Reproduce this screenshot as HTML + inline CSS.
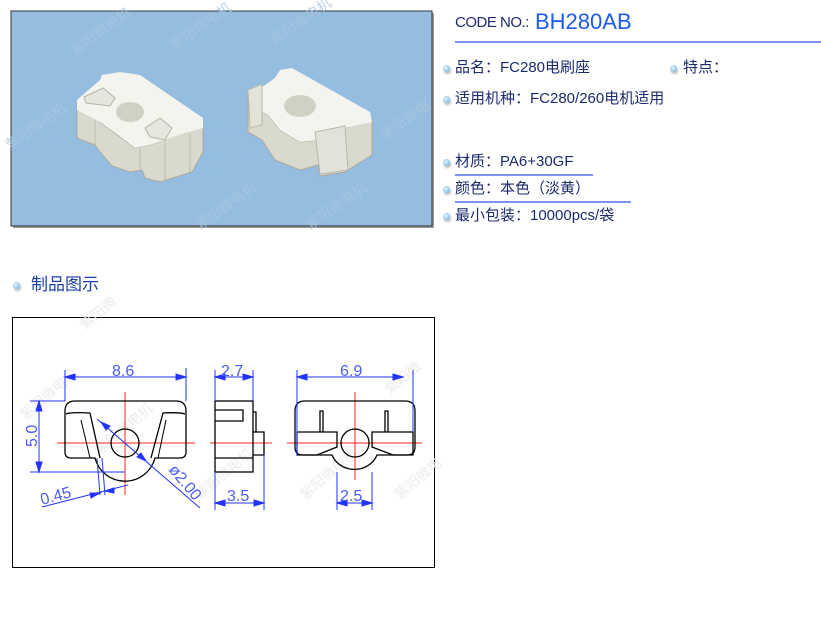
<!DOCTYPE html>
<html><head><meta charset="utf-8"><style>
body{margin:0;width:821px;height:618px;background:#fff;position:relative;overflow:hidden;font-family:"Liberation Sans","Noto Sans CJK SC",sans-serif}
.t{position:absolute;color:#1c2b6e;font-size:15px;white-space:nowrap;line-height:18px}
.b{position:absolute;width:7px;height:7px;border-radius:50%;background:radial-gradient(circle at 40% 40%,#e8f6ff,#5aa6dc);box-shadow:1px 2px 2px #bbb}
.ln{position:absolute;height:2px;background:#7b95ee}
</style></head><body>
<svg width="821" height="618" style="position:absolute;left:0;top:0" font-family="Liberation Sans, Noto Sans CJK SC, sans-serif">
<rect x="13" y="13" width="421" height="215" fill="#999"/>
<rect x="11" y="11" width="421" height="215" fill="#95bde0" stroke="#333" stroke-width="1"/>
<g fill="#a9c6e2" font-size="14" opacity="0.8">
<text transform="translate(75,55) rotate(-35)">紫阳微电机</text>
<text transform="translate(175,50) rotate(-35)">紫阳微电机</text>
<text transform="translate(275,45) rotate(-35)">紫阳微电机</text>
<text transform="translate(10,150) rotate(-35)">紫阳微电机</text>
<text transform="translate(385,140) rotate(-35)">紫阳微电</text>
<text transform="translate(200,230) rotate(-35)">紫阳微电机</text>
<text transform="translate(310,230) rotate(-35)">紫阳微电机</text>
</g>
<!-- part 1 -->
<polygon points="77,102 77,138 95,145 100,152 112,166 130,172 142,170 145,178 160,182 192,172 203,152 203,126 150,145 135,148 100,122" fill="#d9d9cd" stroke="#aaa99c"/>
<path d="M95,118 V145 M140,146 V170 M165,140 V180 M190,133 V172" stroke="#bdbdb0" fill="none"/>
<polygon points="77,100 100,80 102,75 120,72 140,75 203,118 203,128 185,133 165,140 150,145 135,148 118,135 100,122 77,110" fill="#f4f4ef"/>
<ellipse cx="130" cy="112" rx="14" ry="10" fill="#d0d0c4"/>
<polygon points="84,97 103,88 115,98 110,106 86,103" fill="#e6e6dc" stroke="#b5b5a8"/>
<polygon points="145,128 160,118 172,128 165,140 150,137" fill="#e6e6dc" stroke="#b5b5a8"/>
<!-- part 2 -->
<polygon points="248,90 248,132 262,140 275,160 300,170 318,165 320,176 345,172 372,155 372,120 345,128 320,140 300,142 280,130 268,115 255,108" fill="#d9d9cd" stroke="#aaa99c"/>
<polygon points="255,92 275,78 280,70 292,68 370,112 372,122 345,128 320,140 300,142 280,130 268,115 255,108" fill="#f4f4ef"/>
<ellipse cx="300" cy="106" rx="16" ry="11" fill="#d0d0c4"/>
<polygon points="315,132 345,126 348,170 320,174" fill="#e2e2d8" stroke="#b8b8ac"/>
<polygon points="248,90 262,84 262,125 250,128" fill="#e2e2d8" stroke="#b8b8ac"/>

<!-- drawing -->
<rect x="12.5" y="317.5" width="422" height="250" fill="#fff" stroke="#000"/>
<g fill="#ececec" font-size="14">
<text transform="translate(25,420) rotate(-40)">紫阳微电机</text>
<text transform="translate(100,455) rotate(-40)">紫阳微电机</text>
<text transform="translate(200,500) rotate(-40)">紫阳微电机</text>
<text transform="translate(305,500) rotate(-40)">紫阳微电机</text>
<text transform="translate(400,500) rotate(-40)">紫阳微电</text>
<text transform="translate(390,395) rotate(-40)">紫阳微</text>
<text transform="translate(85,330) rotate(-40)">紫阳微</text>
</g>
<g stroke="#f22" stroke-width="1">
<line x1="57" y1="443" x2="195" y2="443"/><line x1="125" y1="392" x2="125" y2="495"/>
<line x1="210" y1="443" x2="272" y2="443"/>
<line x1="287" y1="443" x2="422" y2="443"/><line x1="355" y1="392" x2="355" y2="480"/>
</g>
<g fill="none" stroke="#000" stroke-width="1.3">
<path d="M75,401 H176 Q186,401 186,411 V452 Q186,458 180,458 H155 A31,31 0 0 1 95,458 H71 Q65,458 65,452 V411 Q65,401 75,401 Z"/>
<path d="M66,414 Q70,412 90,413 L100,458"/><path d="M81,420 L90,458" stroke-width="1"/>
<path d="M185,414 Q180,412 163,413 L151,458"/><path d="M166,420 L158,458" stroke-width="1"/>
<circle cx="125" cy="443" r="14"/>
<rect x="215" y="401" width="38" height="71"/>
<path d="M215,410 H243 V421 H215 M215,458 H253 M253,432 H264 V455 H253 M253,412 H256 V432"/>
<path d="M305,401 H405 Q415,401 415,411 V447 Q415,455 407,455 H377 A24,22 0 0 1 332,455 H303 Q295,455 295,447 V411 Q295,401 305,401 Z"/>
<path d="M297,432 H337 V447 L317,455 H297 Z M413,432 H372 V447 L393,455 H413 Z"/>
<path d="M320,432 V411 H323 V432 M385,432 V411 H388 V432"/>
<circle cx="355" cy="443" r="14"/>
</g>
<g stroke="#23f" stroke-width="1" fill="#23f">
<path d="M65,370 V401 M186,368 V401 M65,377 H186" fill="none"/>
<polygon points="65,377 75,374 75,380"/><polygon points="186,377 176,374 176,380"/>
<path d="M30,401 H65 M30,472 H125 M39,401 V472" fill="none"/>
<polygon points="39,401 36,411 42,411"/><polygon points="39,472 36,462 42,462"/>
<path d="M215,370 V401 M253,370 V401 M215,377 H253 M215,472 V510 M264,455 V510 M215,503 H264 M297,370 V455 M413,370 V432 M297,377 H403 M337,472 V510 M372,472 V510 M337,503 H372" fill="none"/>
<polygon points="215,377 225,374 225,380"/><polygon points="253,377 243,374 243,380"/>
<polygon points="215,503 225,500 225,506"/><polygon points="264,503 254,500 254,506"/>
<polygon points="297,377 307,374 307,380"/><polygon points="403,377 393,374 393,380"/>
<polygon points="337,503 347,500 347,506"/><polygon points="372,503 362,500 362,506"/>
<path d="M97,419 L200,508" fill="none"/>
<polygon points="101,422 110,426 106,430"/><polygon points="146,461 137,457 141,453"/>
<path d="M97,458 L100,495 M102,458 L105,495 M42,507 L128,485" fill="none"/>
<polygon points="100,493 91,498 90,493"/><polygon points="105,491 114,488 114,493"/>
</g>
<g fill="#4a5cf0" font-size="16" stroke="none">
<text x="112" y="376">8.6</text>
<text x="221" y="376">2.7</text>
<text x="227" y="501">3.5</text>
<text x="340" y="376">6.9</text>
<text x="340" y="501">2.5</text>
<text transform="translate(37,447) rotate(-90)">5.0</text>
<text transform="translate(42,505) rotate(-15)">0.45</text>
<text transform="translate(168,470) rotate(50)">ø2.00</text>
</g>
</svg>

<div class="t" style="left:455px;top:14px;font-size:15px;letter-spacing:-0.5px">CODE NO.:</div>
<div class="t" style="left:535px;top:9px;font-size:22px;line-height:26px;color:#1a5cf0">BH280AB</div>
<div class="ln" style="left:455px;top:41px;width:366px"></div>
<div class="b" style="left:443px;top:65px"></div><div class="t" style="left:455px;top:59px">品名：FC280电刷座</div>
<div class="b" style="left:670px;top:65px"></div><div class="t" style="left:683px;top:59px">特点：</div>
<div class="b" style="left:443px;top:96px"></div><div class="t" style="left:455px;top:90px">适用机种：FC280/260电机适用</div>
<div class="b" style="left:443px;top:159px"></div><div class="t" style="left:455px;top:153px">材质：PA6+30GF</div>
<div class="ln" style="left:455px;top:174px;width:138px"></div>
<div class="b" style="left:443px;top:186px"></div><div class="t" style="left:455px;top:180px">颜色：本色（淡黄）</div>
<div class="ln" style="left:455px;top:201px;width:176px"></div>
<div class="b" style="left:443px;top:213px"></div><div class="t" style="left:455px;top:207px">最小包装：10000pcs/袋</div>
<div class="b" style="left:13px;top:282px"></div>
<div class="t" style="left:31px;top:275px;font-size:17px;line-height:20px;color:#1a3fa8">制品图示</div>
</body></html>
